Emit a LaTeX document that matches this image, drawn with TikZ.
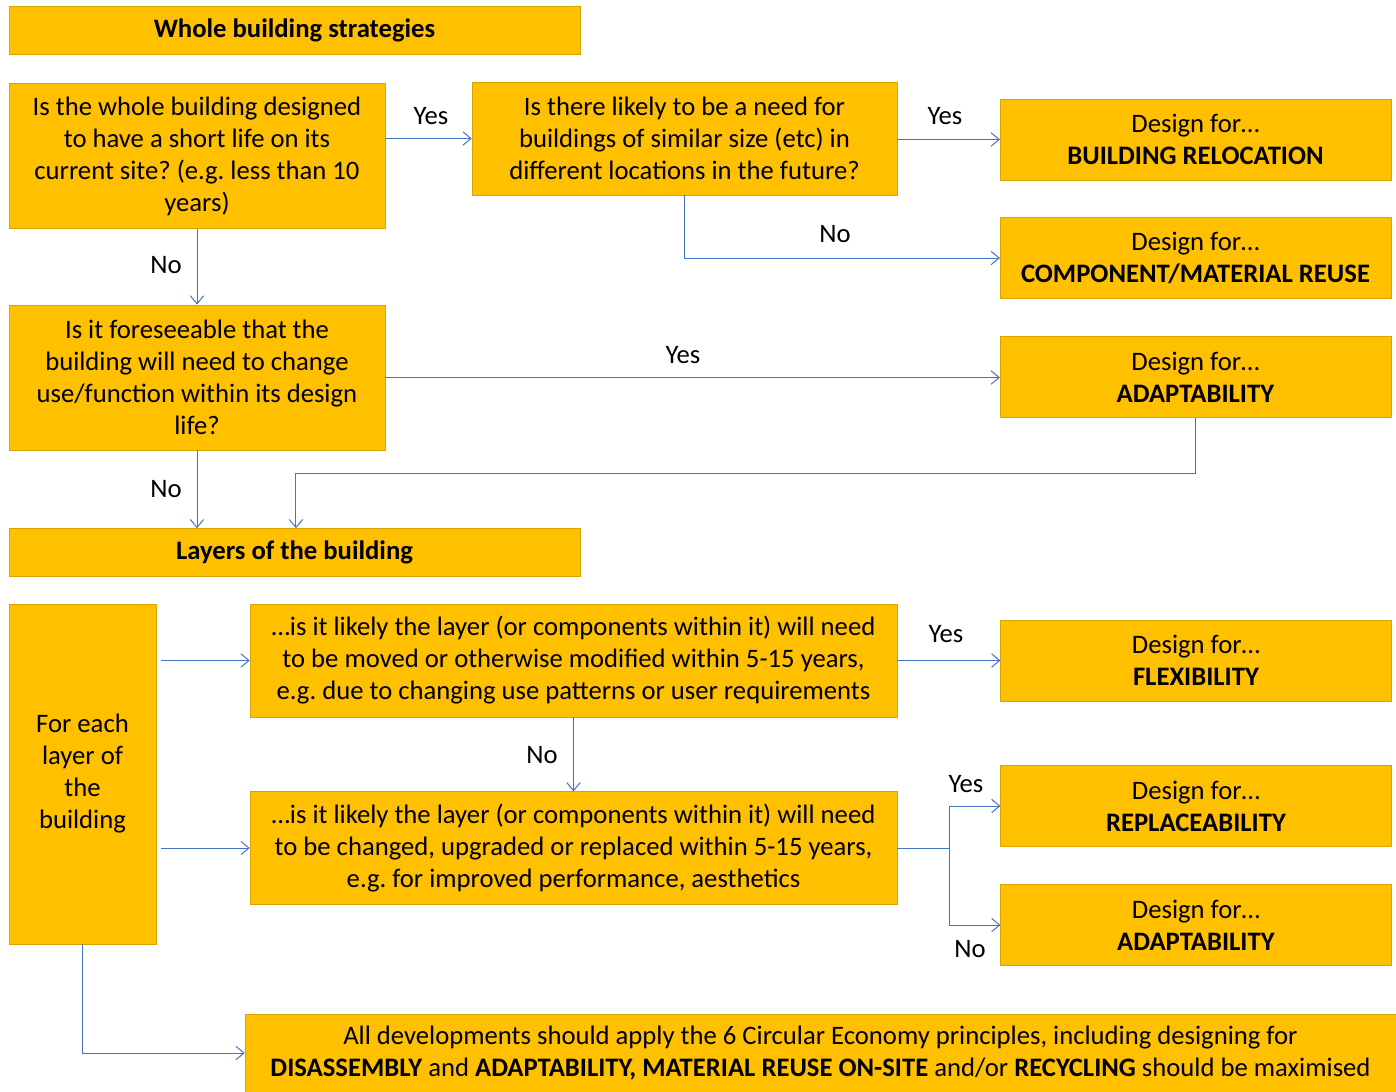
\documentclass[tikz,border=0pt]{standalone}
\usepackage{fontspec}
\setmainfont{Carlito}
\usetikzlibrary{arrows.meta}
\definecolor{boxfill}{HTML}{FFC000}
\definecolor{boxline}{HTML}{D9A300}
\definecolor{flow}{HTML}{4472C4}
\frenchspacing

\begin{document}
\begin{tikzpicture}[
    x=0.75pt, y=-0.75pt,
    box/.style={draw=boxline, line width=0.4pt, fill=boxfill, align=center,
        font=\fontsize{20}{24}\selectfont, inner sep=2pt},
    head/.style={box, font=\fontsize{20}{24}\selectfont\bfseries,
        minimum width=428.25pt, minimum height=36pt},
    ques/.style={box, minimum width=282pt, minimum height=109pt},
    wide/.style={box, minimum width=485.25pt, minimum height=84.5pt},
    res/.style={box, minimum width=293pt, minimum height=60.5pt},
    lbl/.style={font=\fontsize{20}{24}\selectfont, inner sep=0pt},
    arr/.style={-{Straight Barb[length=6pt, width=10pt]}, flow, line width=0.75pt},
    line/.style={flow, line width=0.75pt}
]
    \useasboundingbox (0,0) rectangle (1396,1092);

    \node[head] (h1) at (294.5,30.5) {Whole building strategies};
    \node[ques] (q1) at (197,156) {Is the whole building designed\\to have a short life on its\\current site? (e.g. less than 10\\years)};
    \node[box, minimum width=318.75pt, minimum height=84.75pt] (q2) at (684.5,138.5) {Is there likely to be a need for\\buildings of similar size (etc) in\\different locations in the future?};
    \node[res] (r1) at (1195.5,139.5) {Design for\ldots\\\textbf{BUILDING RELOCATION}};
    \node[res] (r2) at (1195.5,258) {Design for\ldots\\\textbf{COMPONENT/MATERIAL REUSE}};
    \node[ques] (q3) at (197,377.5) {Is it foreseeable that the\\building will need to change\\use/function within its design\\life?};
    \node[res] (r3) at (1195.5,377) {Design for\ldots\\\textbf{ADAPTABILITY}};
    \node[head] (h2) at (294.5,552.5) {Layers of the building};

    \node[box, minimum width=110.25pt, minimum height=255pt] (lay) at (82.5,774) {For each\\layer of\\the\\building};
    \node[wide] (q4) at (573.5,660.5) {\ldots is it likely the layer (or components within it) will need\\to be moved or otherwise modified within 5-15 years,\\e.g. due to changing use patterns or user requirements};
    \node[wide] (q5) at (573.5,848) {\ldots is it likely the layer (or components within it) will need\\to be changed, upgraded or replaced within 5-15 years,\\e.g. for improved performance, aesthetics};
    \node[res] (r4) at (1196,660.5) {Design for\ldots\\\textbf{FLEXIBILITY}};
    \node[res] (r5) at (1196,806) {Design for\ldots\\\textbf{REPLACEABILITY}};
    \node[res] (r6) at (1196,925) {Design for\ldots\\\textbf{ADAPTABILITY}};
    \node[box, minimum width=863.25pt, minimum height=58.5pt] (all) at (820.5,1053) {All developments should apply the 6 Circular Economy principles, including designing for\\\textbf{DISASSEMBLY} and \textbf{ADAPTABILITY, MATERIAL REUSE ON-SITE} and/or \textbf{RECYCLING} should be maximised};

    \draw[arr] (q1.east |- q2.west) -- (q2.west);
    \draw[arr] (q2.east |- r1.west) -- (r1.west);
    \draw[arr] (q2.south) |- (r2.west);
    \draw[arr] (q1) -- (q3);
    \draw[arr] (q3.east) -- (q3.east -| r3.west);
    \draw[arr] (q3.south) -- (h2.north -| q3.south);
    \draw[arr] (r3.south) -- ++(0,56) -| ([xshift=1.1pt]h2.north);

    \draw[arr] ([xshift=3.75pt]lay.east |- q4) -- (q4);
    \draw[arr] ([xshift=3.75pt]lay.east |- q5) -- (q5);
    \draw[arr] (q4) -- (q4 -| r4.west);
    \draw[arr] (q4) -- (q5);
    \coordinate (split) at (949,848);
    \draw[line] (q5.east) -- (split);
    \draw[arr] (split) |- (r5.west);
    \draw[arr] (split) |- (r6.west);
    \draw[arr] (lay.south) |- (all.west);

    \node[lbl] (y1) at (431,116) {Yes};
    \node[lbl] (y2) at (945,116) {Yes};
    \node[lbl] (n1) at (835,234) {No};
    \node[lbl] (n2) at (166,265) {No};
    \node[lbl] (y3) at (683,355) {Yes};
    \node[lbl] (n3) at (166,489) {No};
    \node[lbl] (y4) at (946,634) {Yes};
    \node[lbl] (n4) at (542,755) {No};
    \node[lbl] (y5) at (966,784) {Yes};
    \node[lbl] (n5) at (970,949) {No};
\end{tikzpicture}
\end{document}
